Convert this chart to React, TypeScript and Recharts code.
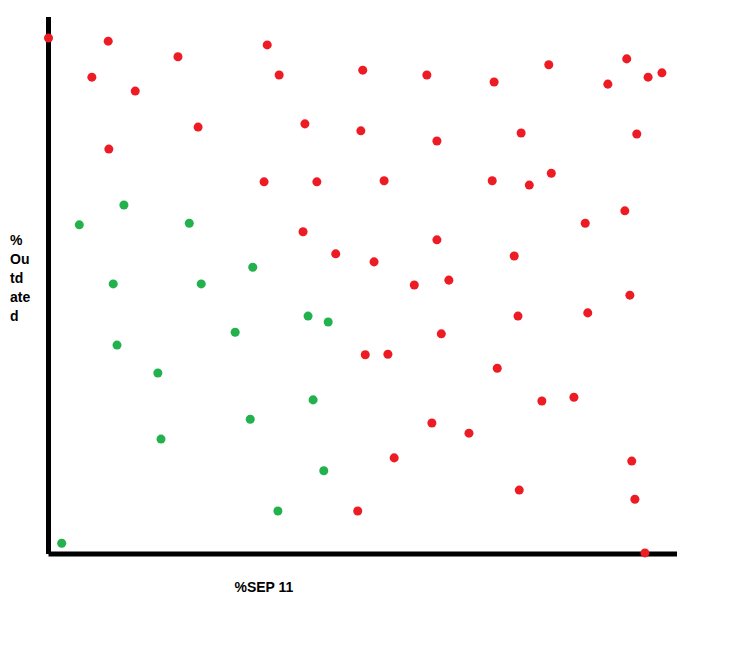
import { ScatterChart, Scatter, XAxis, YAxis, ZAxis, Label } from "recharts";

// Values, on a 0-100 scale for both axes
const redX = [
	0, 9.5, 20.6, 34.8, 6.9, 13.8, 36.7, 50.0, 60.2, 70.9, 79.6, 92.0, 89.0, 95.4, 97.6,
	23.8, 40.8, 49.7, 61.8, 75.2, 93.6, 9.6, 34.3, 42.7, 53.4, 70.6, 76.5, 80.0,
	40.5, 45.7, 51.8, 61.8, 58.2, 63.7, 74.1, 85.4, 91.7, 74.7, 85.8, 92.5,
	62.5, 50.4, 54.0, 71.4, 78.5, 83.6, 61.0, 66.9, 55.0, 92.8, 74.9, 93.3, 49.2, 94.9,
];
const redY = [
	96.1, 95.5, 92.6, 94.8, 88.8, 86.2, 89.2, 90.1, 89.2, 87.9, 91.1, 92.2, 87.5, 88.8, 89.6,
	79.5, 80.1, 78.8, 76.9, 78.4, 78.2, 75.4, 69.3, 69.3, 69.5, 69.5, 68.7, 70.9,
	60.0, 55.9, 54.4, 58.5, 50.1, 51.0, 55.5, 61.6, 63.9, 44.3, 44.9, 48.2,
	41.0, 37.1, 37.2, 34.6, 28.5, 29.2, 24.4, 22.5, 17.9, 17.3, 11.9, 10.2, 8.0, 0.2,
];
const greenX = [4.9, 12.0, 22.4, 10.3, 24.3, 32.5, 10.9, 29.7, 41.3, 44.5, 17.4, 42.1, 17.9, 32.1, 43.8, 36.5, 2.1];
const greenY = [61.3, 65.0, 61.6, 50.3, 50.3, 53.4, 38.9, 41.3, 44.3, 43.2, 33.7, 28.7, 21.4, 25.1, 15.5, 8.0, 2.0];

const yTitle = ["%", "Ou", "td", "ate", "d"];
const xTitle = "%SEP 11";

const redData = redX.map((x, i) => ({ x, y: redY[i] }));
const greenData = greenX.map((x, i) => ({ x, y: greenY[i] }));

const labelFont = {
	fontFamily: "'Liberation Sans', Arial, sans-serif",
	fontWeight: "bold" as const,
	fontSize: 14,
	fill: "#000",
};

export default function App() {
	return (
		<div style={{ position: "relative", width: 731, height: 645 }}>
			<ScatterChart
				width={731}
				height={645}
				margin={{ top: 9, left: 39.5, right: 62, bottom: 98 }}
			>
				<XAxis
					type="number"
					dataKey="x"
					domain={[0, 100]}
					height={1}
					tick={false}
					tickLine={false}
					axisLine={{ stroke: "#000", strokeWidth: 5 }}
				>
					<Label
						value={xTitle}
						position="insideBottomLeft"
						dx={181}
						dy={42}
						{...labelFont}
					/>
				</XAxis>
				<YAxis
					type="number"
					dataKey="y"
					domain={[0, 100]}
					width={1}
					tick={false}
					tickLine={false}
					axisLine={{ stroke: "#000", strokeWidth: 5 }}
				/>
				<ZAxis range={[50, 50]} />
				<Scatter data={redData} fill="#ed1c24" isAnimationActive={false} />
				<Scatter data={greenData} fill="#22b14c" isAnimationActive={false} />
			</ScatterChart>
			<svg
				width={40}
				height={120}
				style={{ position: "absolute", left: 0, top: 210, overflow: "visible" }}
			>
				<text {...labelFont}>
					{yTitle.map((t, i) => (
						<tspan key={i} x={2} y={27 + i * 19}>
							{t}
						</tspan>
					))}
				</text>
			</svg>
		</div>
	);
}
